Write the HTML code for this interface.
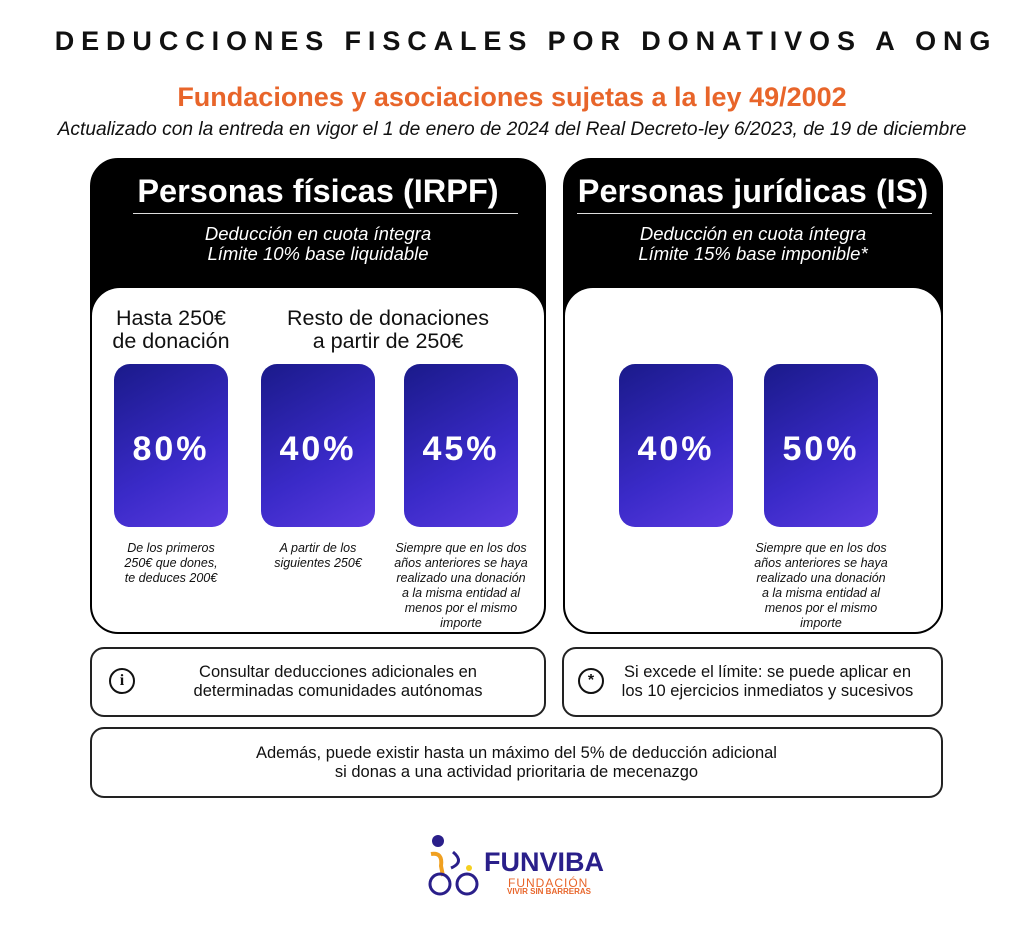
<!DOCTYPE html>
<html><head><meta charset="utf-8"><style>
body{margin:0;width:1024px;height:930px;background:#fff;font-family:"Liberation Sans",sans-serif;position:relative;overflow:hidden;color:#111}
.a{position:absolute}
.c{text-align:center}
.card{position:absolute;background:#000;border:2px solid #000;border-radius:28px;box-sizing:border-box}
.inner{position:absolute;background:#fff;border-radius:28px 28px 26px 26px}
.h{color:#fff;font-size:32.5px;font-weight:bold;text-align:center}
.sub{color:#fff;font-style:italic;font-size:18.5px;line-height:20px;text-align:center}
.p{position:absolute;width:114px;height:163px;border-radius:16px;background:linear-gradient(150deg,#1a1a8a,#3a2ac8 60%,#5a3ae0);color:#fff;font-weight:bold;font-size:34px;letter-spacing:3px;display:flex;align-items:center;justify-content:center;padding-top:8px;box-sizing:border-box}
.n{position:absolute;font-style:italic;font-size:12.5px;line-height:15px;text-align:center}
.box{position:absolute;border:2px solid #222;border-radius:14px;box-sizing:border-box;font-size:16.5px;line-height:19px;text-align:center;display:flex;align-items:center;justify-content:center}
.ic{position:absolute;width:22px;height:22px;border:2px solid #111;border-radius:50%;font-weight:bold;font-size:16px;line-height:22px;text-align:center;font-family:"Liberation Serif",serif}
</style></head><body>
<div class="a c" style="left:14px;width:1024px;top:26px;font-size:27px;font-weight:bold;letter-spacing:6.9px">DEDUCCIONES FISCALES POR DONATIVOS A ONG</div>
<div class="a c" style="left:0;width:1024px;top:82px;font-size:27px;font-weight:bold;color:#e8652a">Fundaciones y asociaciones sujetas a la ley 49/2002</div>
<div class="a c" style="left:0;width:1024px;top:119px;font-size:19.2px;font-style:italic">Actualizado con la entreda en vigor el 1 de enero de 2024 del Real Decreto-ley 6/2023, de 19 de diciembre</div>

<div class="card" style="left:90px;top:158px;width:456px;height:476px"></div>
<div class="a h" style="left:90px;width:456px;top:173px">Personas físicas (IRPF)</div>
<div class="a" style="left:133px;width:385px;top:213px;height:1px;background:#ddd"></div>
<div class="a sub" style="left:90px;width:456px;top:224px">Deducción en cuota íntegra<br>Límite 10% base liquidable</div>
<div class="inner" style="left:92px;top:288px;width:452px;height:344px"></div>
<div class="a c" style="left:100px;width:142px;top:307px;font-size:21.5px;line-height:23px">Hasta 250€<br>de donación</div>
<div class="a c" style="left:258px;width:260px;top:307px;font-size:21.5px;line-height:23px">Resto de donaciones<br>a partir de 250€</div>
<div class="p" style="left:114px;top:364px">80%</div>
<div class="p" style="left:261px;top:364px">40%</div>
<div class="p" style="left:404px;top:364px">45%</div>
<div class="n" style="left:106px;width:130px;top:541px">De los primeros<br>250€ que dones,<br>te deduces 200€</div>
<div class="n" style="left:250px;width:136px;top:541px">A partir de los<br>siguientes 250€</div>
<div class="n" style="left:380px;width:162px;top:541px">Siempre que en los dos<br>años anteriores se haya<br>realizado una donación<br>a la misma entidad al<br>menos por el mismo<br>importe</div>

<div class="card" style="left:563px;top:158px;width:380px;height:476px"></div>
<div class="a h" style="left:563px;width:380px;top:173px">Personas jurídicas (IS)</div>
<div class="a" style="left:577px;width:355px;top:213px;height:1px;background:#ddd"></div>
<div class="a sub" style="left:563px;width:380px;top:224px">Deducción en cuota íntegra<br>Límite 15% base imponible*</div>
<div class="inner" style="left:565px;top:288px;width:376px;height:344px"></div>
<div class="p" style="left:619px;top:364px">40%</div>
<div class="p" style="left:764px;top:364px">50%</div>
<div class="n" style="left:740px;width:162px;top:541px">Siempre que en los dos<br>años anteriores se haya<br>realizado una donación<br>a la misma entidad al<br>menos por el mismo<br>importe</div>

<div class="box" style="left:90px;top:647px;width:456px;height:70px"><span style="margin-left:40px">Consultar deducciones adicionales en<br>determinadas comunidades autónomas</span></div>
<div class="ic" style="left:109px;top:668px">i</div>
<div class="box" style="left:562px;top:647px;width:381px;height:70px"><span style="margin-left:30px">Si excede el límite: se puede aplicar en<br>los 10 ejercicios inmediatos y sucesivos</span></div>
<div class="ic" style="left:578px;top:668px;font-family:'Liberation Sans'">*</div>
<div class="box" style="left:90px;top:727px;width:853px;height:71px">Además, puede existir hasta un máximo del 5% de deducción adicional<br>si donas a una actividad prioritaria de mecenazgo</div>

<svg class="a" style="left:425px;top:832px" width="70" height="66">
<circle cx="13" cy="9" r="6" fill="#2a1f8a"/>
<path d="M6 22 Q18 20 16 34 L18 44" stroke="#f0a020" stroke-width="4" fill="none"/>
<path d="M28 20 Q40 30 26 36" stroke="#2a1f8a" stroke-width="3" fill="none"/>
<circle cx="15" cy="52" r="10" stroke="#2a1f8a" stroke-width="3" fill="none"/>
<circle cx="42" cy="52" r="10" stroke="#2a1f8a" stroke-width="3" fill="none"/>
<circle cx="44" cy="36" r="3" fill="#f5d020"/>
</svg>
<div class="a" style="left:484px;top:847px;font-size:27px;font-weight:bold;color:#2a1f8a">FUNVIBA</div>
<div class="a" style="left:508px;top:876px;font-size:12px;color:#e8652a;letter-spacing:1px">FUNDACIÓN</div>
<div class="a" style="left:507px;top:887px;font-size:8px;font-weight:bold;color:#e8652a">VIVIR SIN BARRERAS</div>
</body></html>
